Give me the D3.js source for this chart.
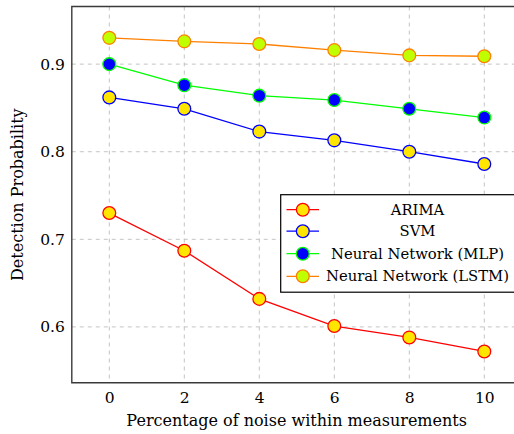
<!DOCTYPE html>
<html>
<head>
<meta charset="utf-8">
<script src="https://cdn.jsdelivr.net/npm/d3@7"></script>
<style>
  html, body { margin: 0; padding: 0; background: #fff; }
  svg { display: block; }
  text { font-family: "DejaVu Serif", "Liberation Serif", serif; fill: #000; }
</style>
</head>
<body>
<svg id="chart" width="514" height="434"></svg>
<script>
const noise = [0, 2, 4, 6, 8, 10];
const arima = [0.730, 0.687, 0.632, 0.601, 0.588, 0.572];
const svm   = [0.862, 0.849, 0.823, 0.813, 0.800, 0.786];
const mlp   = [0.900, 0.876, 0.864, 0.859, 0.849, 0.839];
const lstm  = [0.930, 0.926, 0.923, 0.916, 0.910, 0.909];
const seriesNames = ["ARIMA", "SVM", "Neural Network (MLP)", "Neural Network (LSTM)"];
const xTicks = [0, 2, 4, 6, 8, 10];
const yTicks = [0.6, 0.7, 0.8, 0.9];
const xTitle = "Percentage of noise within measurements";
const yTitle = "Detection Probability";

const series = [
  { name: seriesNames[0], values: arima, line: "#ff0000", mstroke: "#ff0000", mfill: "#ffe600" },
  { name: seriesNames[1], values: svm,   line: "#0000ff", mstroke: "#0000ff", mfill: "#ffe600" },
  { name: seriesNames[2], values: mlp,   line: "#00ff00", mstroke: "#00ff00", mfill: "#0000ff" },
  { name: seriesNames[3], values: lstm,  line: "#ff8000", mstroke: "#ff8000", mfill: "#bfff00" }
];

const svg = d3.select("#chart");
const pLeft = 71.8, pTop = 6.5, pBottom = 382.8;

const x = d3.scaleLinear().domain([-1, 11]).range([pLeft, pLeft + 450]);
const allY = [].concat(arima, svm, mlp, lstm);
const yMin = d3.min(allY), yMax = d3.max(allY);
const pad = (yMax - yMin) * 0.1;
const y = d3.scaleLinear().domain([yMin - pad, yMax + pad]).range([pBottom, pTop]);

const pRight = x.range()[1];

// grid
const grid = svg.append("g");
grid.selectAll("line.gx").data(xTicks).join("line")
  .attr("x1", d => x(d)).attr("x2", d => x(d))
  .attr("y1", pTop).attr("y2", pBottom)
  .attr("stroke", "#c4c4c4").attr("stroke-width", 1).attr("stroke-dasharray", "4,4");
grid.selectAll("line.gy").data(yTicks).join("line")
  .attr("x1", pLeft).attr("x2", pRight)
  .attr("y1", d => y(d)).attr("y2", d => y(d))
  .attr("stroke", "#c4c4c4").attr("stroke-width", 1).attr("stroke-dasharray", "4,4");

// axes (labels only; frame drawn separately)
const xAxis = d3.axisBottom(x).tickValues(xTicks).tickSize(0).tickPadding(9).tickFormat(d3.format("d"));
const gx = svg.append("g").attr("transform", `translate(0,${pBottom})`).call(xAxis);
gx.select(".domain").remove();
gx.selectAll("text").attr("font-size", 15.5).attr("font-family", "DejaVu Serif");

const yAxis = d3.axisLeft(y).tickValues(yTicks).tickSize(0).tickPadding(7).tickFormat(d3.format(".1f"));
const gy = svg.append("g").attr("transform", `translate(${pLeft},0)`).call(yAxis);
gy.select(".domain").remove();
gy.selectAll("text").attr("font-size", 15.5).attr("font-family", "DejaVu Serif");

// lines and markers
const line = d3.line().x((d, i) => x(noise[i])).y(d => y(d));
series.forEach(s => {
  svg.append("path").datum(s.values).attr("d", line)
    .attr("fill", "none").attr("stroke", s.line).attr("stroke-width", 1.3);
  svg.append("g").selectAll("circle").data(s.values).join("circle")
    .attr("cx", (d, i) => x(noise[i])).attr("cy", d => y(d)).attr("r", 6.4)
    .attr("fill", s.mfill).attr("stroke", s.mstroke).attr("stroke-width", 1.3);
});

// frame
svg.append("path")
  .attr("d", `M${pRight},${pTop}H${pLeft}V${pBottom}H${pRight}`)
  .attr("fill", "none").attr("stroke", "#3a3a3a").attr("stroke-width", 1.4);

// legend
const lg = svg.append("g");
const lgX = 280.7, lgY = 194.7, lgW = 250, lgH = 97.5;
lg.append("rect").attr("x", lgX).attr("y", lgY).attr("width", lgW).attr("height", lgH)
  .attr("fill", "#fff").attr("stroke", "#000").attr("stroke-width", 1.2);
const rowY = [209.7, 231.2, 253.7, 276.3];
series.forEach((s, i) => {
  const g = lg.append("g");
  g.append("line").attr("x1", 286.5).attr("x2", 319).attr("y1", rowY[i]).attr("y2", rowY[i])
    .attr("stroke", s.line).attr("stroke-width", 1.3);
  g.append("circle").attr("cx", 302.8).attr("cy", rowY[i]).attr("r", 6.4)
    .attr("fill", s.mfill).attr("stroke", s.mstroke).attr("stroke-width", 1.3);
  g.append("text").attr("x", 417.5).attr("y", rowY[i]).attr("dy", "0.35em")
    .attr("text-anchor", "middle").attr("font-size", 14.8).text(s.name);
});

// axis titles
svg.append("text").attr("x", (128.3 + 465) / 2).attr("y", 426)
  .attr("text-anchor", "middle").attr("font-size", 16).text(xTitle);
svg.append("text")
  .attr("transform", `translate(23,${(pTop + pBottom) / 2}) rotate(-90)`)
  .attr("text-anchor", "middle").attr("font-size", 16).text(yTitle);
</script>
</body>
</html>
